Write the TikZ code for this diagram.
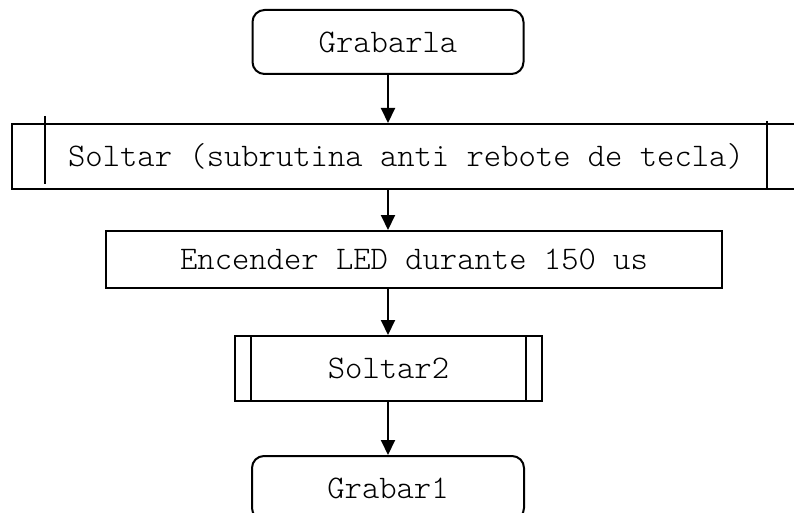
\documentclass[tikz,border=0pt]{standalone}
\usepackage{fontspec}
\setmonofont{Latin Modern Mono Light}
\usetikzlibrary{arrows.meta}

\begin{document}
\begin{tikzpicture}[x=1pt,y=-1pt,
  caja/.style={draw,line width=2pt,inner sep=0pt,font=\ttfamily\fontsize{33}{38}\selectfont},
  terminal/.style={caja,rounded corners=12pt},
  linea/.style={line width=2pt},
  flecha/.style={line width=2pt,-{Triangle[width=14pt,length=15pt]}}]
\useasboundingbox (0,0) rectangle (794,513);
\clip (0,0) rectangle (794,513);
\node[terminal,minimum width=271pt,minimum height=64pt] (inicio) at (388,42) {Grabarla};
\node[caja,minimum width=788pt,minimum height=65pt] (soltar) at (406,156.5) {Soltar (subrutina anti rebote de tecla)};
\node[caja,minimum width=616pt,minimum height=57pt] (led) at (414,259.5) {Encender LED durante 150 us};
\node[caja,minimum width=307pt,minimum height=65pt] (soltar2) at (388.5,368.5) {Soltar2};
\node[terminal,minimum width=272pt,minimum height=64pt] (fin) at (388,488) {Grabar1};
% lineas de subrutina
\draw[linea] ([xshift=34pt,yshift=7pt]soltar.north west) -- ([xshift=34pt,yshift=6pt]soltar.south west);
\draw[linea] ([xshift=-34pt,yshift=2pt]soltar.north east) -- ([xshift=-34pt]soltar.south east);
\draw[linea] ([xshift=17pt]soltar2.north west) -- ([xshift=17pt]soltar2.south west);
\draw[linea] ([xshift=-17pt]soltar2.north east) -- ([xshift=-17pt]soltar2.south east);
% flechas
\draw[flecha] (inicio.south) -- (inicio.south |- soltar.north);
\draw[flecha] (inicio.south |- soltar.south) -- (inicio.south |- led.north);
\draw[flecha] (inicio.south |- led.south) -- (inicio.south |- soltar2.north);
\draw[flecha] (inicio.south |- soltar2.south) -- (inicio.south |- fin.north);
\end{tikzpicture}
\end{document}
